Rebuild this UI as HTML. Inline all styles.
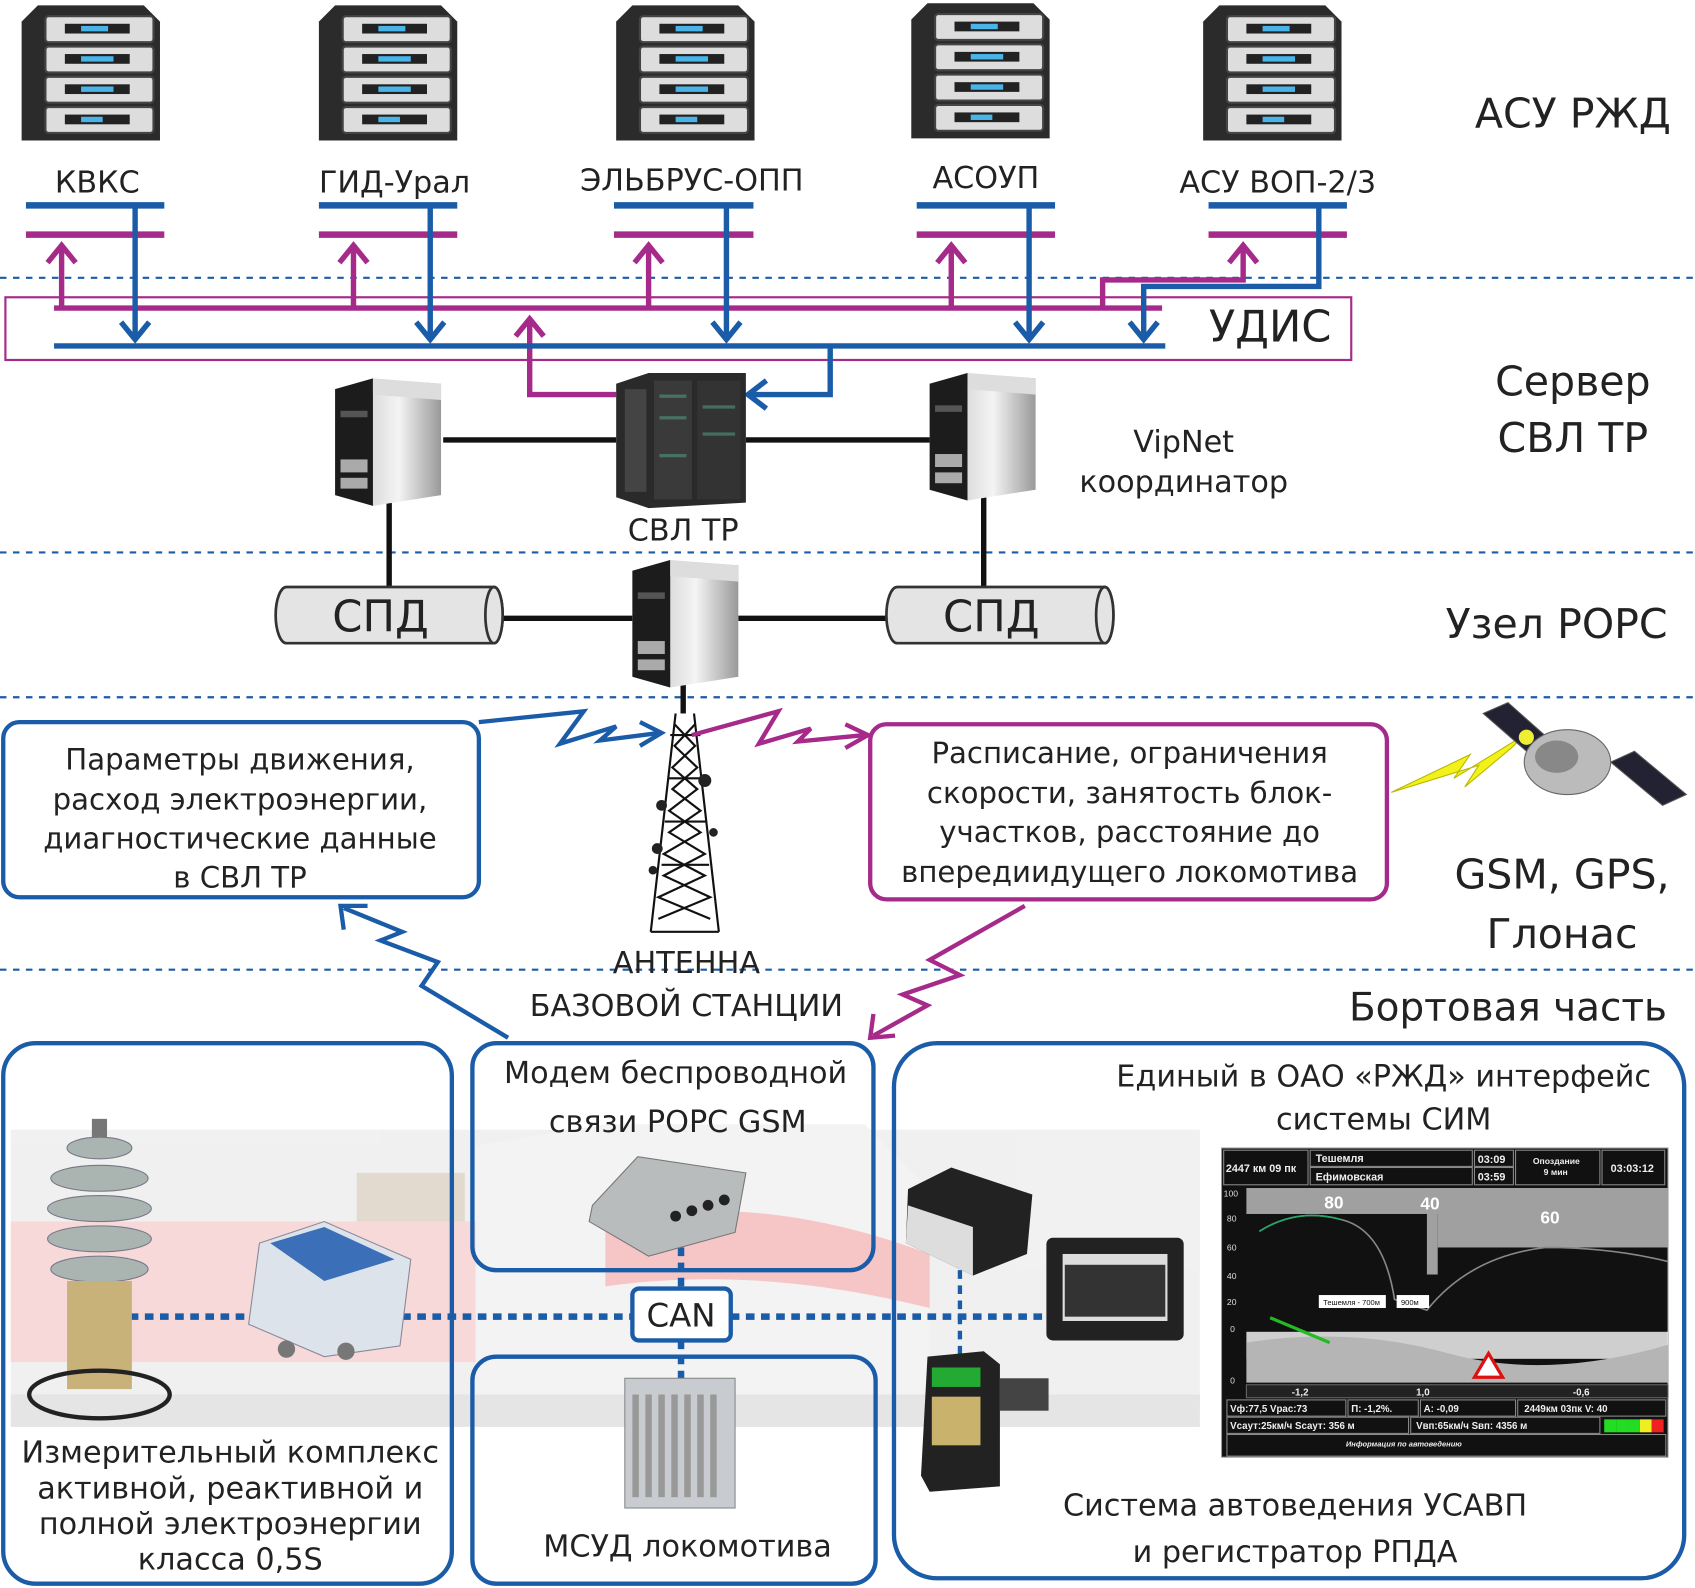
<!DOCTYPE html>
<html><head><meta charset="utf-8"><style>
html,body{margin:0;padding:0;background:#fff}
svg{display:block;font-family:"DejaVu Sans","Liberation Sans",sans-serif}
</style></head><body>
<svg width="1695" height="1588" viewBox="0 0 1568 1469" preserveAspectRatio="none" xmlns="http://www.w3.org/2000/svg" fill="#222">
<defs>
<linearGradient id="pc" x1="0" y1="0" x2="1" y2="0"><stop offset="0" stop-color="#bbb"/><stop offset=".6" stop-color="#f4f4f4"/><stop offset="1" stop-color="#999"/></linearGradient>
<g id="server">
<path d="M0,15 L15,0 L113,0 L128,15 L128,125 L0,125 Z" fill="#2b2b2b"/>
<rect x="22" y="10" width="100" height="24" rx="3" fill="#ddd" stroke="#444" stroke-width="2"/>
<rect x="22" y="38" width="100" height="24" rx="3" fill="#ddd" stroke="#444" stroke-width="2"/>
<rect x="22" y="66" width="100" height="24" rx="3" fill="#ddd" stroke="#444" stroke-width="2"/>
<rect x="22" y="94" width="100" height="24" rx="3" fill="#ddd" stroke="#444" stroke-width="2"/>
<rect x="40" y="17" width="60" height="9" fill="#222"/><rect x="40" y="45" width="60" height="9" fill="#222"/><rect x="40" y="73" width="60" height="9" fill="#222"/><rect x="40" y="101" width="60" height="9" fill="#222"/>
<rect x="55" y="19" width="25" height="5" fill="#4ab3e8"/><rect x="55" y="47" width="30" height="5" fill="#4ab3e8"/><rect x="55" y="75" width="30" height="5" fill="#4ab3e8"/><rect x="55" y="103" width="20" height="5" fill="#4ab3e8"/>
</g>
<g id="pcg">
<path d="M0,10 L35,0 L98,5 L98,108 L35,118 L0,108 Z" fill="url(#pc)"/>
<path d="M0,10 L35,0 L35,118 L0,108 Z" fill="#1c1c1c"/>
<path d="M35,0 L98,5 L98,20 L35,15Z" fill="#ddd"/>
<rect x="5" y="30" width="25" height="6" fill="#555"/><rect x="5" y="75" width="25" height="12" fill="#aaa"/><rect x="5" y="92" width="25" height="10" fill="#aaa"/>
</g>
</defs>

<!-- background train -->
<g opacity="0.5">
<rect x="10" y="1045" width="1100" height="260" fill="#e3e3e3"/>
<path d="M10,1130 L560,1130 Q700,1110 860,1150 L860,1260 L10,1260 Z" fill="#f3b5b5"/>
<path d="M440,1060 L560,1040 L800,1040 L860,1100 L860,1300 L440,1300 Z" fill="#e8e8e8"/>
<path d="M560,1130 Q700,1100 860,1160 L860,1210 Q700,1170 560,1190 Z" fill="#ef8f8f"/>
<rect x="330" y="1085" width="100" height="45" fill="#c9b6a0"/>
<rect x="10" y="1290" width="1100" height="30" fill="#ccc"/>
</g>

<g stroke="#1a5ca8" stroke-width="2" stroke-dasharray="6,6">
<line x1="0" y1="257" x2="1568" y2="257"/><line x1="0" y1="511" x2="1568" y2="511"/><line x1="0" y1="645" x2="1568" y2="645"/><line x1="0" y1="897" x2="1568" y2="897"/>
</g>

<use href="#server" x="20" y="5"/><use href="#server" x="295" y="5"/><use href="#server" x="570" y="5"/><use href="#server" x="843" y="3"/><use href="#server" x="1113" y="5"/>
<g font-size="28" text-anchor="middle">
<text x="90" y="178">КВКС</text><text x="365" y="178">ГИД-Урал</text><text x="640" y="176">ЭЛЬБРУС-ОПП</text><text x="912" y="174">АСОУП</text><text x="1182" y="178">АСУ ВОП-2/3</text>
</g>
<text x="1455" y="118" font-size="38" text-anchor="middle">АСУ РЖД</text>

<g stroke="#1a5ca8" stroke-width="6"><line x1="24" y1="190" x2="152" y2="190"/><line x1="295" y1="190" x2="423" y2="190"/><line x1="568" y1="190" x2="697" y2="190"/><line x1="848" y1="190" x2="976" y2="190"/><line x1="1118" y1="190" x2="1246" y2="190"/></g>
<g stroke="#a52a8a" stroke-width="6"><line x1="24" y1="217" x2="152" y2="217"/><line x1="295" y1="217" x2="423" y2="217"/><line x1="568" y1="217" x2="697" y2="217"/><line x1="848" y1="217" x2="976" y2="217"/><line x1="1118" y1="217" x2="1246" y2="217"/></g>

<rect x="5" y="275" width="1245" height="58" fill="none" stroke="#a52a8a" stroke-width="2"/>
<text x="1175" y="316" font-size="40" text-anchor="middle">УДИС</text>
<g fill="none" stroke="#a52a8a" stroke-width="5">
<line x1="50" y1="285" x2="1075" y2="285"/>
<path d="M57,285 V228 M327,285 V228 M600,285 V228 M880,285 V228"/>
<path d="M1020,285 V259 H1150 V228"/>
<path d="M44,243 L57,227 L70,243 M314,243 L327,227 L340,243 M587,243 L600,227 L613,243 M867,243 L880,227 L893,243 M1137,243 L1150,227 L1163,243"/>
<path d="M570,365 H490 V296 M477,311 L490,295 L503,311"/>
</g>
<g fill="none" stroke="#1a5ca8" stroke-width="5">
<line x1="50" y1="320" x2="1078" y2="320"/>
<path d="M125,190 V314 M398,190 V314 M672,190 V314 M952,190 V314"/>
<path d="M1220,190 V265 H1058 V314"/>
<path d="M112,298 L125,314 L138,298 M385,298 L398,314 L411,298 M659,298 L672,314 L685,298 M939,298 L952,314 L965,298 M1045,298 L1058,314 L1071,298"/>
<path d="M768,320 V365 H693 M709,352 L692,365 L709,378"/>
</g>

<g stroke="#111" stroke-width="5"><line x1="410" y1="407" x2="570" y2="407"/><line x1="690" y1="407" x2="860" y2="407"/><line x1="360" y1="462" x2="360" y2="543"/><line x1="910" y1="458" x2="910" y2="543"/><line x1="465" y1="572" x2="585" y2="572"/><line x1="683" y1="572" x2="820" y2="572"/><line x1="632" y1="628" x2="632" y2="660"/></g>
<g>
<path d="M570,355 L600,345 L690,345 L690,465 L600,470 L570,460 Z" fill="#2a2a2a"/>
<rect x="578" y="360" width="20" height="95" fill="#444"/>
<rect x="605" y="352" width="35" height="110" fill="#3a3a3a"/><rect x="645" y="352" width="40" height="110" fill="#333"/>
<g fill="#5a8" opacity=".5"><rect x="610" y="365" width="25" height="3"/><rect x="610" y="385" width="25" height="3"/><rect x="650" y="375" width="30" height="3"/><rect x="650" y="400" width="30" height="3"/><rect x="610" y="420" width="25" height="3"/></g>
</g>
<use href="#pcg" x="310" y="350"/><use href="#pcg" x="860" y="345"/><use href="#pcg" x="585" y="518"/>
<text x="632" y="500" font-size="28" text-anchor="middle">СВЛ ТР</text>
<text x="1095" y="418" font-size="28" text-anchor="middle">VipNet</text>
<text x="1095" y="455" font-size="28" text-anchor="middle">координатор</text>
<text x="1455" y="366" font-size="38" text-anchor="middle">Сервер</text>
<text x="1455" y="418" font-size="38" text-anchor="middle">СВЛ ТР</text>

<g fill="#e4e4e4" stroke="#333" stroke-width="2.5">
<path d="M265,543 H457 A8,26 0 0 1 457,595 H265 A10,26 0 0 1 265,543 Z"/><ellipse cx="457" cy="569" rx="8" ry="26"/>
<path d="M830,543 H1022 A8,26 0 0 1 1022,595 H830 A10,26 0 0 1 830,543 Z"/><ellipse cx="1022" cy="569" rx="8" ry="26"/>
</g>
<text x="352" y="584" font-size="40" text-anchor="middle">СПД</text>
<text x="917" y="584" font-size="40" text-anchor="middle">СПД</text>
<text x="1440" y="590" font-size="38" text-anchor="middle">Узел РОРС</text>

<g stroke="#111" stroke-width="2" fill="none">
<path d="M625,660 L602,862 M642,660 L665,862 M602,862 H665"/>
<path d="M624,670 L643,690 L622,710 L645,730 L619,750 L648,770 L614,790 L652,810 L609,830 L657,850 M643,670 L624,690 L645,710 L622,730 L648,750 L619,770 L652,790 L614,810 L657,830 L609,850"/>
<path d="M620,680 H648 M618,720 H650 M615,760 H653 M612,800 H656"/>
</g>
<g fill="#222"><circle cx="612" cy="745" r="5"/><circle cx="652" cy="722" r="6"/><circle cx="608" cy="785" r="5"/><circle cx="660" cy="770" r="4"/><circle cx="604" cy="805" r="4"/></g>
<text x="635" y="900" font-size="28" text-anchor="middle">АНТЕННА</text>
<text x="635" y="940" font-size="28" text-anchor="middle">БАЗОВОЙ СТАНЦИИ</text>

<rect x="3" y="668" width="440" height="162" rx="15" fill="#fff" stroke="#1a5ca8" stroke-width="4"/>
<g font-size="27" text-anchor="middle"><text x="222" y="712">Параметры движения,</text><text x="222" y="749">расход электроэнергии,</text><text x="222" y="785">диагностические данные</text><text x="222" y="821">в СВЛ ТР</text></g>
<rect x="805" y="670" width="478" height="162" rx="15" fill="#fff" stroke="#a52a8a" stroke-width="4"/>
<g font-size="27" text-anchor="middle"><text x="1045" y="706">Расписание, ограничения</text><text x="1045" y="743">скорости, занятость блок-</text><text x="1045" y="779">участков, расстояние до</text><text x="1045" y="816">впередиидущего локомотива</text></g>
<text x="1445" y="822" font-size="38" text-anchor="middle">GSM, GPS,</text>
<text x="1445" y="877" font-size="38" text-anchor="middle">Глонас</text>

<g fill="none" stroke-width="4">
<path d="M443,668 L540,658 L518,688 L570,672 L555,685 L610,678" stroke="#1a5ca8"/>
<path d="M592,668 L612,678 L592,690" stroke="#1a5ca8"/>
<path d="M640,680 L720,658 L702,688 L750,674 L738,686 L800,680" stroke="#a52a8a"/>
<path d="M782,670 L803,680 L782,692" stroke="#a52a8a"/>
<path d="M470,960 L390,912 L405,890 L352,870 L372,862 L318,840" stroke="#1a5ca8"/>
<path d="M318,860 L315,838 L340,838" stroke="#1a5ca8"/>
<path d="M948,838 L860,888 L888,902 L835,920 L858,930 L808,958" stroke="#a52a8a"/>
<path d="M808,938 L805,960 L828,958" stroke="#a52a8a"/>
</g>
<path d="M1287,733 L1360,698 L1345,720 L1410,680 L1398,692 L1355,728 L1368,708 Z" fill="#f2f21a" stroke="#b8b800" stroke-width="1"/>
<g>
<path d="M1372,660 L1395,650 L1440,690 L1418,700 Z" fill="#223" stroke="#555"/>
<path d="M1490,705 L1512,695 L1560,735 L1538,745 Z" fill="#223" stroke="#555"/>
<ellipse cx="1450" cy="705" rx="40" ry="30" fill="#bbb" stroke="#666"/>
<ellipse cx="1440" cy="700" rx="20" ry="15" fill="#888"/>
<circle cx="1412" cy="682" r="7" fill="#ee3"/>
</g>

<text x="1395" y="944" font-size="36" text-anchor="middle">Бортовая часть</text>

<g fill="none" stroke="#1a5ca8" stroke-width="4">
<rect x="3" y="965" width="415" height="500" rx="30"/>
<rect x="437" y="965" width="371" height="210" rx="22"/>
<rect x="437" y="1255" width="373" height="210" rx="22"/>
<rect x="827" y="965" width="731" height="495" rx="40"/>
</g>
<g stroke="#1a5ca8" stroke-width="6" stroke-dasharray="8,6" fill="none">
<line x1="120" y1="1218" x2="585" y2="1218"/><line x1="676" y1="1218" x2="970" y2="1218"/>
<line x1="630" y1="1140" x2="630" y2="1192"/><line x1="630" y1="1240" x2="630" y2="1280"/>
<line x1="888" y1="1175" x2="888" y2="1260" stroke-width="4"/>
</g>
<rect x="585" y="1192" width="91" height="48" rx="6" fill="#fff" stroke="#1a5ca8" stroke-width="4"/>
<text x="630" y="1227" font-size="30" text-anchor="middle">CAN</text>

<g>
<rect x="85" y="1035" width="14" height="20" fill="#777"/>
<g fill="#aab4b0" stroke="#778"><ellipse cx="92" cy="1062" rx="30" ry="10"/><ellipse cx="92" cy="1090" rx="45" ry="12"/><ellipse cx="92" cy="1118" rx="48" ry="12"/><ellipse cx="92" cy="1146" rx="48" ry="12"/><ellipse cx="92" cy="1174" rx="45" ry="12"/></g>
<rect x="62" y="1185" width="60" height="100" fill="#c9b27a"/>
<ellipse cx="92" cy="1290" rx="65" ry="22" fill="none" stroke="#222" stroke-width="4"/>
</g>
<g><path d="M240,1150 L300,1130 L380,1165 L370,1245 L300,1255 L230,1225 Z" fill="#dde3ea" stroke="#889"/>
<path d="M250,1150 L300,1135 L365,1165 L300,1185 Z" fill="#3b6fb8"/><circle cx="265" cy="1248" r="8" fill="#777"/><circle cx="320" cy="1250" r="8" fill="#777"/></g>

<g font-size="28" text-anchor="middle"><text x="213" y="1353">Измерительный комплекс</text><text x="213" y="1386">активной, реактивной и</text><text x="213" y="1419">полной электроэнергии</text><text x="213" y="1452">класса 0,5S</text></g>

<g><path d="M548,1115 L590,1070 L690,1085 L680,1140 L600,1162 L545,1130 Z" fill="#b9bcbd" stroke="#777"/>
<g fill="#222"><circle cx="640" cy="1120" r="5"/><circle cx="655" cy="1115" r="5"/><circle cx="670" cy="1110" r="5"/><circle cx="625" cy="1125" r="5"/></g></g>
<text x="625" y="1002" font-size="28" text-anchor="middle">Модем беспроводной</text>
<text x="627" y="1047" font-size="28" text-anchor="middle">связи РОРС GSM</text>
<g><rect x="578" y="1275" width="102" height="120" fill="#c8ccd0" stroke="#888"/>
<g fill="#999"><rect x="585" y="1290" width="6" height="95"/><rect x="597" y="1290" width="6" height="95"/><rect x="609" y="1290" width="6" height="95"/><rect x="621" y="1290" width="6" height="95"/><rect x="633" y="1290" width="6" height="95"/><rect x="645" y="1290" width="6" height="95"/><rect x="657" y="1290" width="6" height="95"/></g></g>
<text x="636" y="1440" font-size="28" text-anchor="middle">МСУД локомотива</text>

<g><path d="M840,1100 L880,1080 L955,1105 L950,1160 L900,1180 L838,1150 Z" fill="#222"/><path d="M840,1115 L900,1135 L900,1180 L838,1150 Z" fill="#ddd"/></g>
<g><rect x="968" y="1145" width="127" height="95" rx="6" fill="#222"/><rect x="983" y="1160" width="97" height="62" fill="#ddd"/><rect x="985" y="1170" width="93" height="48" fill="#333"/></g>
<g><path d="M858,1255 L910,1250 L925,1262 L925,1375 L860,1380 L852,1365 Z" fill="#222"/><rect x="862" y="1265" width="45" height="18" fill="#2a3"/><rect x="862" y="1292" width="45" height="45" fill="#c9b26b"/><rect x="925" y="1275" width="45" height="30" fill="#444"/></g>

<text x="1280" y="1005" font-size="28" text-anchor="middle">Единый в ОАО «РЖД» интерфейс</text>
<text x="1280" y="1045" font-size="28" text-anchor="middle">системы СИМ</text>
<text x="1198" y="1402" font-size="28" text-anchor="middle">Система автоведения УСАВП</text>
<text x="1198" y="1445" font-size="28" text-anchor="middle">и регистратор РПДА</text>

<g transform="translate(1130,1062)">
<rect x="0" y="0" width="413" height="286" fill="#111" stroke="#999"/>
<g fill="none" stroke="#888" stroke-width="1"><rect x="2" y="2" width="78" height="32"/><rect x="82" y="2" width="150" height="15"/><rect x="82" y="18" width="150" height="16"/><rect x="234" y="2" width="36" height="15"/><rect x="234" y="18" width="36" height="16"/><rect x="272" y="2" width="78" height="32"/><rect x="352" y="2" width="58" height="32"/></g>
<g font-family="Liberation Sans" font-weight="bold" fill="#eee" font-size="10"><text x="4" y="22">2447 км 09 пк</text><text x="87" y="13">Тешемля</text><text x="87" y="30">Ефимовская</text><text x="237" y="14">03:09</text><text x="237" y="30">03:59</text><text x="288" y="15" font-size="8">Опоздание</text><text x="298" y="25" font-size="8">9 мин</text><text x="360" y="22">03:03:12</text></g>
<rect x="23" y="37" width="390" height="24" fill="#a0a0a0"/>
<rect x="190" y="37" width="10" height="80" fill="#a0a0a0"/>
<rect x="200" y="37" width="213" height="55" fill="#a0a0a0"/>
<rect x="23" y="170" width="390" height="25" fill="#fff" opacity=".8"/>
<path d="M23,180 Q120,165 210,190 T413,182 L413,217 L23,217 Z" fill="#b5b5b5"/>
<path d="M45,157 L100,180" stroke="#2b2" stroke-width="3"/>
<path d="M35,77 Q70,55 110,66 Q150,75 160,140 L190,150 Q230,100 300,92 Q360,92 413,105" fill="none" stroke="#888" stroke-width="1.5"/>
<path d="M35,77 Q70,55 110,66" fill="none" stroke="#2a6" stroke-width="1.5"/>
<g font-family="Liberation Sans" font-weight="bold" fill="#fff"><text x="95" y="56" font-size="16">80</text><text x="184" y="57" font-size="16">40</text><text x="295" y="70" font-size="16">60</text></g>
<rect x="90" y="136" width="62" height="12" fill="#fff"/><rect x="162" y="136" width="30" height="12" fill="#fff"/>
<g font-family="Liberation Sans" fill="#111" font-size="7"><text x="94" y="145">Тешемля - 700м</text><text x="166" y="145">900м</text></g>
<path d="M247,190 L260,212 L234,212 Z" fill="#fff" stroke="#d11" stroke-width="3"/>
<g font-family="Liberation Sans" fill="#ddd" font-size="8"><text x="2" y="45">100</text><text x="5" y="68">80</text><text x="5" y="95">60</text><text x="5" y="121">40</text><text x="5" y="145">20</text><text x="8" y="170">0</text><text x="8" y="218">0</text></g>
<rect x="23" y="219" width="390" height="12" fill="#222" stroke="#666"/>
<g font-family="Liberation Sans" font-weight="bold" fill="#eee" font-size="9"><text x="65" y="229">-1,2</text><text x="180" y="229">1,0</text><text x="325" y="229">-0,6</text></g>
<g fill="none" stroke="#888"><rect x="5" y="233" width="110" height="15"/><rect x="117" y="233" width="65" height="15"/><rect x="184" y="233" width="88" height="15"/><rect x="274" y="233" width="137" height="15"/><rect x="5" y="249" width="168" height="15"/><rect x="175" y="249" width="175" height="15"/><rect x="5" y="265" width="406" height="20"/></g>
<g font-family="Liberation Sans" font-weight="bold" fill="#eee" font-size="9"><text x="8" y="244">Vф:77,5  Vрас:73</text><text x="120" y="244">П: -1,2%.</text><text x="187" y="244">А: -0,09</text><text x="280" y="244">2449км 03пк V: 40</text><text x="8" y="260">Vсаут:25км/ч  Sсаут: 356 м</text><text x="180" y="260">Vвп:65км/ч  Sвп: 4356 м</text><text x="115" y="276" font-size="7" font-style="italic">Информация по автоведению</text></g>
<rect x="354" y="251" width="11" height="12" fill="#2d2"/><rect x="365" y="251" width="11" height="12" fill="#2d2"/><rect x="376" y="251" width="11" height="12" fill="#2d2"/><rect x="387" y="251" width="11" height="12" fill="#ee2"/><rect x="398" y="251" width="11" height="12" fill="#e22"/>
</g>
</svg>
</body></html>
